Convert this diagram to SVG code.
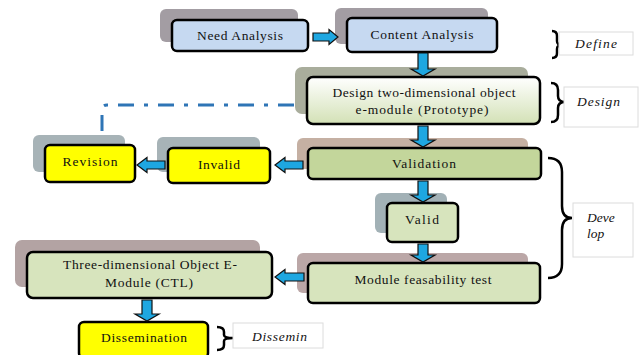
<svg xmlns="http://www.w3.org/2000/svg" width="640" height="355" viewBox="0 0 640 355">
<defs>
<linearGradient id="gDesign" x1="0" y1="0" x2="0" y2="1">
<stop offset="0" stop-color="#ffffff"/>
<stop offset="1" stop-color="#d3e1b6"/>
</linearGradient>
</defs>
<style>
.box{stroke:#000;stroke-width:2.5}
.shadow{stroke:none}
.t{font-family:"Liberation Serif","Times New Roman",serif;font-size:13.5px;fill:#111;text-anchor:middle}
.lbl{font-family:"Liberation Serif","Times New Roman",serif;font-size:13.5px;font-style:italic;fill:#111}
.lblbox{fill:#fff;stroke:#dcdcdc;stroke-width:1}
.brace{fill:none;stroke:#000;stroke-width:2.5}
.arr{fill:#1ea7e1;stroke:#111;stroke-width:1.2;stroke-linejoin:miter}
.dash{fill:none;stroke:#2e75b6;stroke-width:3;stroke-dasharray:16 10 4 10}
</style>
<rect width="640" height="355" fill="#fff"/>

<g id="need">
<rect class="shadow" x="160" y="9" width="138" height="33" rx="6" fill="#a39da3"/>
<rect class="box" x="172" y="20" width="136" height="31" rx="5" fill="#c6d9f1"/>
<text class="t" x="240" y="40" textLength="86">Need Analysis</text>
</g>
<g id="content">
<rect class="shadow" x="335" y="8" width="153" height="36" rx="6" fill="#a39da3"/>
<rect class="box" x="347" y="18" width="150" height="34" rx="5" fill="#c6d9f1"/>
<text class="t" x="422" y="39" textLength="103">Content Analysis</text>
</g>
<g id="design">
<rect class="shadow" x="295" y="67" width="233" height="47" rx="7" fill="#a9ad9c"/>
<rect class="box" x="307" y="77" width="233" height="47" rx="6" fill="url(#gDesign)"/>
<text class="t" x="424" y="97" textLength="183">Design two-dimensional object</text>
<text class="t" x="422" y="114" textLength="133">e-module (Prototype)</text>
</g>
<g id="validation">
<rect class="shadow" x="297" y="138" width="231" height="31" rx="6" fill="#c5b0a3"/>
<rect class="box" x="308" y="148" width="233" height="31" rx="5" fill="#c3d69b"/>
<text class="t" x="424" y="168" textLength="64">Validation</text>
</g>
<g id="invalid">
<rect class="shadow" x="157" y="137" width="103" height="35" rx="6" fill="#a7b3b7"/>
<rect class="box" x="168" y="148" width="102" height="35" rx="5" fill="#ffff00"/>
<text class="t" x="219" y="169" textLength="42">Invalid</text>
</g>
<g id="revision">
<rect class="shadow" x="33" y="135" width="92" height="37" rx="6" fill="#a7b3b7"/>
<rect class="box" x="45" y="145" width="90" height="37" rx="5" fill="#ffff00"/>
<text class="t" x="90" y="166" textLength="55">Revision</text>
</g>
<g id="valid">
<rect class="shadow" x="375" y="193" width="72" height="40" rx="6" fill="#a2b1b6"/>
<rect class="box" x="387" y="203" width="71" height="39" rx="5" fill="#d7e4bd"/>
<text class="t" x="422" y="224" textLength="34">Valid</text>
</g>
<g id="module">
<rect class="shadow" x="297" y="253" width="231" height="40" rx="6" fill="#bba7a7"/>
<rect class="box" x="308" y="263" width="232" height="40" rx="5" fill="#d7e4bd"/>
<text class="t" x="423" y="284" textLength="137">Module feasability test</text>
</g>
<g id="three">
<rect class="shadow" x="15" y="240" width="245" height="47" rx="7" fill="#b3a3a3"/>
<rect class="box" x="27" y="252" width="245" height="46" rx="6" fill="#d7e4bd"/>
<text class="t" x="150" y="269" textLength="174">Three-dimensional Object E-</text>
<text class="t" x="149" y="287" textLength="88">Module (CTL)</text>
</g>
<g id="dissemination">
<rect class="box" x="79" y="322" width="129" height="36" rx="5" fill="#ffff00"/>
<text class="t" x="144" y="342" textLength="86">Dissemination</text>
</g>

<g id="labels">
<path class="brace" d="M552 31 Q557 31 557 36 L557 41 Q557 45 562 45 Q557 45 557 49 L557 53 Q557 58 552 58"/>
<rect class="lblbox" x="559" y="32" width="74" height="23"/>
<text class="lbl" x="575" y="48" textLength="42">Define</text>
<path class="brace" d="M551 83 Q558 83 558 90 L558 96 Q558 102 565 102 Q558 102 558 108 L558 115 Q558 122 551 122"/>
<rect class="lblbox" x="564" y="87" width="74" height="40"/>
<text class="lbl" x="577" y="106" textLength="43">Design</text>
<path class="brace" d="M548 158 Q562 158 562 172 L562 206 Q562 218 572 218 Q562 218 562 230 L562 264 Q562 278 548 278"/>
<rect class="lblbox" x="573" y="203" width="60" height="54"/>
<text class="lbl" x="587" y="222">Deve</text>
<text class="lbl" x="587" y="238">lop</text>
<path class="brace" d="M217 327 Q224 327 224 332 L224 335 Q224 338 233 338 Q224 338 224 341 L224 345 Q224 350 217 350"/>
<rect class="lblbox" x="233" y="323" width="90" height="25"/>
<text class="lbl" x="252" y="341" textLength="55">Dissemin</text>
</g>

<g id="connectors">
<path class="arr" d="M313 33 L329 33 L329 29.5 L338 37 L329 44.5 L329 41 L313 41 Z"/>
<path class="arr" d="M418 53 L428 53 L428 69 L435 69 L423 76 L411 69 L418 69 Z"/>
<path class="arr" d="M418 126 L428 126 L428 140 L435 140 L423 147 L411 140 L418 140 Z"/>
<path class="arr" d="M303 161 L285 161 L285 157.5 L275 165 L285 172.5 L285 169 L303 169 Z"/>
<path class="arr" d="M165 161 L147 161 L147 157.5 L137 165 L147 172.5 L147 169 L165 169 Z"/>
<path class="arr" d="M418 181 L428 181 L428 195 L435 195 L423 202 L411 195 L418 195 Z"/>
<path class="arr" d="M418 244 L428 244 L428 255 L435 255 L423 262 L411 255 L418 255 Z"/>
<path class="arr" d="M304 273 L285 273 L285 269.5 L275 277 L285 284.5 L285 281 L304 281 Z"/>
<path class="arr" d="M142 300 L152 300 L152 314 L159 314 L147 321 L135 314 L142 314 Z"/>
<path class="dash" d="M294 105 L107 105 Q102 105 102 110 L102 133"/>
</g>
</svg>
